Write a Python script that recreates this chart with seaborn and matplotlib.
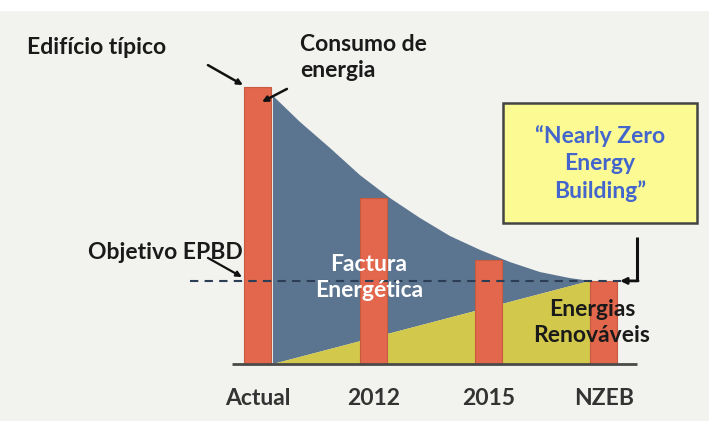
import numpy as np
import pandas as pd
import matplotlib
matplotlib.use("Agg")
import matplotlib.pyplot as plt
import seaborn as sns
from matplotlib.patches import Rectangle

# ---- data ----
categories = ["Actual", "2012", "2015", "NZEB"]
consumption = [100, 60, 37.5, 30]          # energy consumption per stage
epbd_target = 30                            # EPBD objective level
curve_x = [0.13, 0.364, 0.624, 0.884, 1.145, 1.405, 1.665, 1.925, 2.185, 2.445, 2.705, 2.88]
curve_y = [96.8, 87.4, 78.0, 68.2, 59.9, 52.7, 46.2, 41.2, 36.8, 33.2, 31.0, 30]
renew_x = [0.13, 2.88]
renew_y = [0, 30]

BG = "#F2F2EE"
BAR = "#E2674C"
BLUE = "#5B7591"
YELLOW = "#D2C84B"

sns.set_theme(style="white")
plt.rcParams['font.family'] = ['Lato', 'DejaVu Sans']

fig = plt.figure(figsize=(7.09, 4.21), dpi=100, facecolor=BG)
ax = fig.add_axes([0, 0, 1, 1])

# top white margin of the screenshot
fig.add_artist(Rectangle((0, 1 - 10 / 421), 1, 10 / 421, transform=fig.transFigure,
                         color="white", zorder=-5))

# areas
poly_x = curve_x + renew_x[::-1]
poly_y = curve_y + renew_y[::-1]
ax.fill(poly_x, poly_y, color=BLUE, lw=0, zorder=1)
ax.fill(renew_x + [renew_x[-1]], renew_y + [0], color=YELLOW, lw=0, zorder=1)

# bars
df = pd.DataFrame({"cat": categories, "val": consumption})
sns.barplot(data=df, x="cat", y="val", color=BAR, width=0.234, saturation=1,
            edgecolor="#C85A40", linewidth=0.8, ax=ax, zorder=3)

# baseline
ax.plot([-0.225, 3.286], [0, 0], color="#4a4a4a", lw=2, zorder=4, solid_capstyle="butt")

# EPBD dashed line
ax.plot([-0.59, 3.16], [epbd_target, epbd_target], ls=(0, (4, 3)), color="#2C3E55",
        lw=1.5, zorder=5)

# bracket from the NZEB box
ax.plot([3.286, 3.286], [46, epbd_target], color="#111111", lw=2.2, zorder=5,
        solid_capstyle="butt")
ax.annotate("", xy=(3.14, epbd_target), xytext=(3.296, epbd_target),
            arrowprops=dict(arrowstyle="-|>", color="#111111", lw=2, mutation_scale=9,
                            shrinkA=0, shrinkB=0), zorder=6)

tkw = dict(fontweight="bold", fontsize=16.5)

# annotations
ax.text(-2.003, 114.1, "Edifício típico", ha="left", va="center", color="#1a1a1a", **tkw)
ax.annotate("", xy=(-0.13, 100.7), xytext=(-0.434, 107.9),
            arrowprops=dict(arrowstyle="-|>", color="#111111", lw=1.8, mutation_scale=8,
                            shrinkA=0, shrinkB=0))
ax.text(0.364, 110.8, "Consumo de\nenergia", ha="left", va="center", color="#1a1a1a",
        linespacing=1.3, **tkw)
ax.annotate("", xy=(0.035, 94.6), xytext=(0.251, 99.3),
            arrowprops=dict(arrowstyle="-|>", color="#111111", lw=1.8, mutation_scale=8,
                            shrinkA=0, shrinkB=0), zorder=6)
ax.text(-1.474, 40.4, "Objetivo EPBD", ha="left", va="center", color="#1a1a1a", **tkw)
ax.annotate("", xy=(-0.139, 31.4), xytext=(-0.434, 38.3),
            arrowprops=dict(arrowstyle="-|>", color="#111111", lw=1.6, mutation_scale=8,
                            shrinkA=0, shrinkB=0), zorder=6)
ax.text(0.962, 31.2, "Factura\nEnergética", ha="center", va="center", color="white",
        linespacing=1.33, zorder=7, **tkw)
ax.text(2.896, 15.0, "Energias\nRenováveis", ha="center", va="center", color="#1a1a1a",
        linespacing=1.25, zorder=7, **tkw)

# NZEB box
ax.add_patch(Rectangle((2.124, 50.9), 3.806 - 2.124, 94.2 - 50.9, facecolor="#FBFA93",
                       edgecolor="#444444", lw=1.8, zorder=6))
ax.text(2.965, 72.4, "\u201cNearly Zero\nEnergy\nBuilding\u201d", ha="center", va="center",
        color="#4466CC", linespacing=1.33, zorder=7, **tkw)

# category labels
for i, c in enumerate(categories):
    ax.text(i, -12.3, c, ha="center", va="center", color="#333333", **tkw)

ax.set_xlim(-2.237, 3.911)
ax.set_ylim(-20.58, 131.4)
ax.set_axis_off()

fig.savefig("out.png", dpi=100, facecolor=BG)
